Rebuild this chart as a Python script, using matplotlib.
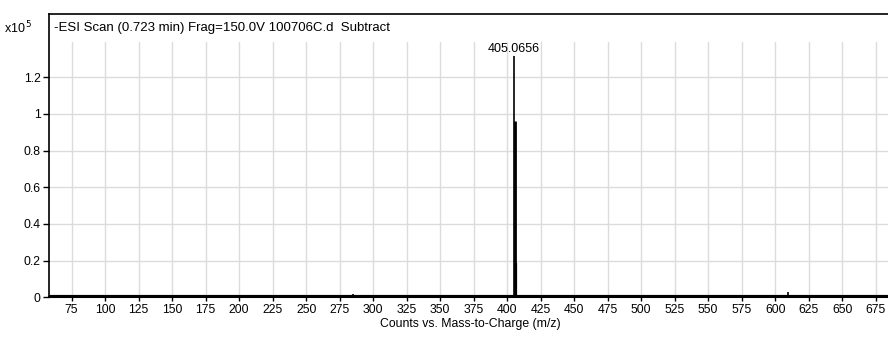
import numpy as np
import matplotlib.pyplot as plt
from matplotlib.ticker import FuncFormatter
from matplotlib.patches import Rectangle

plt.rcParams['font.family'] = ['Liberation Sans', 'DejaVu Sans']
plt.rcParams['font.size'] = 8.5

# centroided peaks (m/z, counts)
mz = [155.2, 200.4, 285.3, 405.0656, 405.75, 406.5, 609.8, 620.5, 675.2]
counts = [300, 1100, 1600, 131500, 96200, 18500, 3000, 900, 400]
label_peak = 3

title = '-ESI Scan (0.723 min) Frag=150.0V 100706C.d  Subtract'
xticks = np.arange(75, 700, 25)
yticks = [0, 0.2e5, 0.4e5, 0.6e5, 0.8e5, 1.0e5, 1.2e5]

fig = plt.figure(figsize=(8.88, 3.38), dpi=100)
ax = fig.add_axes([0.0552, 0.1204, 0.949, 0.8382])

ax.vlines(mz[:3], 0, counts[:3], color='black', lw=1.2, zorder=3)
ax.vlines(mz[3], 0, counts[3], color='black', lw=1.2, zorder=3)
ax.vlines(mz[4], 0, counts[4], color='black', lw=2.0, zorder=3)
ax.vlines(mz[5], 0, counts[5], color='black', lw=1.6, zorder=3)
ax.vlines(mz[6:], 0, counts[6:], color='black', lw=1.2, zorder=3)
ax.axhline(0, color='black', lw=3, zorder=4)

ax.set_xlim(58.1, 687)
ax.set_ylim(0, 1.544e5)
ax.set_xticks(xticks)
ax.set_yticks(yticks)
ax.yaxis.set_major_formatter(FuncFormatter(lambda v, p: f'{v / 1e5:g}'))

ax.grid(True, color='#dcdcdc', lw=1)
ax.set_axisbelow(True)
# blank strip under the header text
ax.add_patch(Rectangle((0, 0.9), 1, 0.1, transform=ax.transAxes,
                       facecolor='white', edgecolor='none', zorder=1))

for s in ['left', 'top']:
    ax.spines[s].set_linewidth(1.2)
ax.spines['right'].set_visible(False)
ax.spines['bottom'].set_linewidth(1.5)
ax.tick_params(axis='both', direction='out', length=4, width=1, pad=2,
               labelsize=8.8, colors='black')
ax.tick_params(axis='x', length=3)

ax.text(0.006, 0.951, title, transform=ax.transAxes, ha='left', va='center',
        fontsize=9.5, zorder=5)
fig.text(0.004, 0.917, r'x10$^{\,5}$', ha='left', va='center', fontsize=9)

ax.text(mz[label_peak], counts[label_peak] + 300, f'{mz[label_peak]:.4f}',
        ha='center', va='bottom', fontsize=9, zorder=5)

ax.set_xlabel('Counts vs. Mass-to-Charge (m/z)', fontsize=8.8, labelpad=1)

fig.savefig('out.png', dpi=100)
